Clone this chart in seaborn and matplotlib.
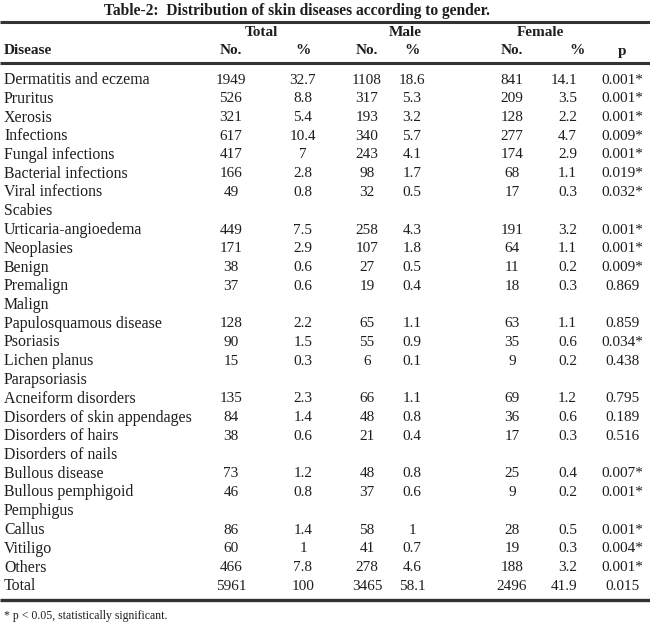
import numpy as np
import pandas as pd
import matplotlib
matplotlib.use('Agg')
import matplotlib.pyplot as plt
import seaborn as sns

title = 'Table-2:  Distribution of skin diseases according to gender.'
footnote = '* p < 0.05, statistically significant.'
groups = ['Total', 'Male', 'Female']
subheads = ['No.', '%', 'No.', '%', 'No.', '%', 'p']

diseases = ['Dermatitis and eczema', 'Pruritus', 'Xerosis', 'Infections',
            'Fungal infections', 'Bacterial infections', 'Viral infections',
            'Scabies', 'Urticaria-angioedema', 'Neoplasies', 'Benign',
            'Premalign', 'Malign', 'Papulosquamous disease', 'Psoriasis',
            'Lichen planus', 'Parapsoriasis', 'Acneiform disorders',
            'Disorders of skin appendages', 'Disorders of hairs',
            'Disorders of nails', 'Bullous disease', 'Bullous pemphigoid',
            'Pemphigus', 'Callus', 'Vitiligo', 'Others', 'Total']
total_no = ['1949', '526', '321', '617', '417', '166', '49', '', '449', '171',
            '38', '37', '', '128', '90', '15', '', '135', '84', '38', '', '73',
            '46', '', '86', '60', '466', '5961']
total_pct = ['32.7', '8.8', '5.4', '10.4', '7', '2.8', '0.8', '', '7.5', '2.9',
             '0.6', '0.6', '', '2.2', '1.5', '0.3', '', '2.3', '1.4', '0.6', '',
             '1.2', '0.8', '', '1.4', '1', '7.8', '100']
male_no = ['1108', '317', '193', '340', '243', '98', '32', '', '258', '107',
           '27', '19', '', '65', '55', '6', '', '66', '48', '21', '', '48',
           '37', '', '58', '41', '278', '3465']
male_pct = ['18.6', '5.3', '3.2', '5.7', '4.1', '1.7', '0.5', '', '4.3', '1.8',
            '0.5', '0.4', '', '1.1', '0.9', '0.1', '', '1.1', '0.8', '0.4', '',
            '0.8', '0.6', '', '1', '0.7', '4.6', '58.1']
female_no = ['841', '209', '128', '277', '174', '68', '17', '', '191', '64',
             '11', '18', '', '63', '35', '9', '', '69', '36', '17', '', '25',
             '9', '', '28', '19', '188', '2496']
female_pct = ['14.1', '3.5', '2.2', '4.7', '2.9', '1.1', '0.3', '', '3.2', '1.1',
              '0.2', '0.3', '', '1.1', '0.6', '0.2', '', '1.2', '0.6', '0.3', '',
              '0.4', '0.2', '', '0.5', '0.3', '3.2', '41.9']
p_values = ['0.001*', '0.001*', '0.001*', '0.009*', '0.001*', '0.019*', '0.032*',
            '', '0.001*', '0.001*', '0.009*', '0.869', '', '0.859', '0.034*',
            '0.438', '', '0.795', '0.189', '0.516', '', '0.007*', '0.001*', '',
            '0.001*', '0.004*', '0.001*', '0.015']

df = pd.DataFrame({'Disease': diseases, 'Total No.': total_no, 'Total %': total_pct,
                   'Male No.': male_no, 'Male %': male_pct,
                   'Female No.': female_no, 'Female %': female_pct, 'p': p_values})

sns.set_theme(style='white')
plt.rcParams['font.family'] = ['Liberation Serif', 'DejaVu Serif']

fig = plt.figure(figsize=(6.5, 6.29), dpi=100)
ax = fig.add_axes([0, 0, 1, 1])
ax.set_xlim(0, 650)
ax.set_ylim(629, 0)
ax.axis('off')

ink = '#1e1e1e'
fs = 11

# column layout: (x, alignment)
cols = {'Total No.': (231, 'center'), 'Total %': (303, 'center'),
        'Male No.': (367, 'center'), 'Male %': (412, 'center'),
        'Female No.': (512, 'center'), 'Female %': (577, 'right'),
        'p': (622, 'center')}

ax.text(297, 11, title, ha='center', va='center', fontsize=11.2,
        fontweight='bold', color=ink)
ax.hlines([22, 63], 0, 650, color='#333333', lw=2.2)

for g, x in zip(groups, [261, 405, 540]):
    ax.text(x, 32, g, ha='center', va='center', fontsize=fs,
            fontweight='bold', color=ink)
ax.text(4, 51, 'Disease', ha='left', va='center', fontsize=fs,
        fontweight='bold', color=ink)
for name, head in zip(list(cols)[:6] + ['p'], subheads):
    x, _ = cols[name]
    ax.text(x, 51, head, ha='center', va='center', fontsize=fs,
            fontweight='bold', color=ink)

y0, dy = 80, 18.75
for i, row in df.iterrows():
    y = y0 + i * dy
    ax.text(4, y, row['Disease'], ha='left', va='center', fontsize=11.4, color=ink)
    for name, (x, ha) in cols.items():
        ax.text(x, y, row[name], ha=ha, va='center', fontsize=fs, color=ink)

ax.hlines(600, 0, 650, color='#333333', lw=2.4)
ax.text(4, 616, footnote, ha='left', va='center', fontsize=8.5, color=ink)

fig.savefig('out.png', dpi=100)
